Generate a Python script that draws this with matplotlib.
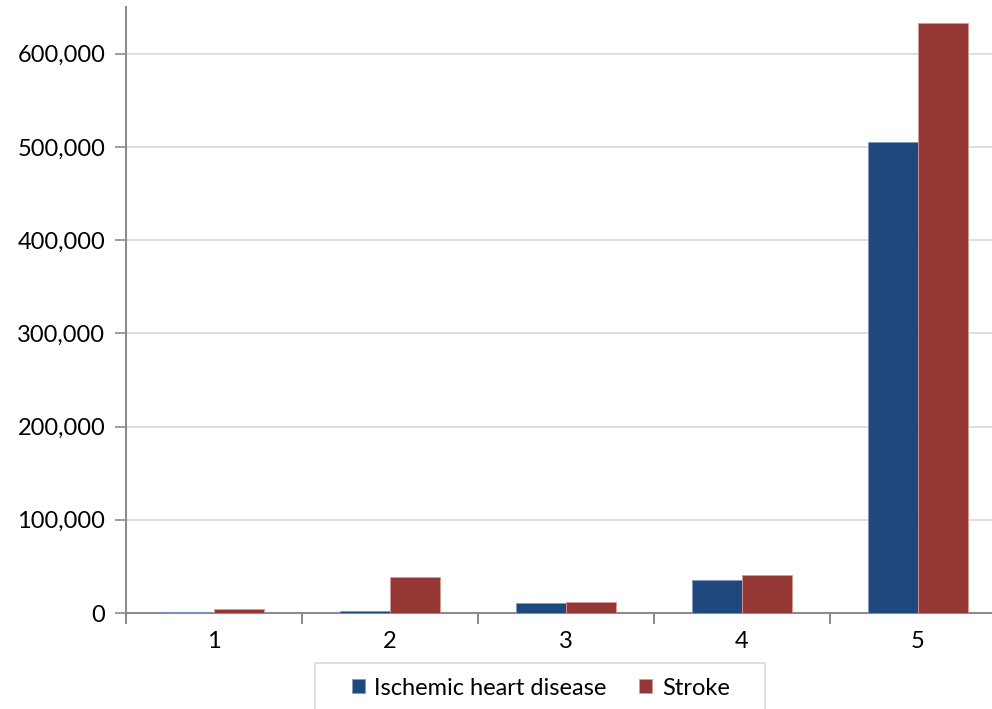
import matplotlib.pyplot as plt
from matplotlib.ticker import FuncFormatter, FixedLocator
from matplotlib.patches import Rectangle
import numpy as np

plt.rcParams['font.family'] = ['Lato', 'DejaVu Sans']

categories = ['1', '2', '3', '4', '5']
ischemic = [1400, 1700, 10300, 35400, 505400]
stroke = [4300, 38900, 11800, 41000, 632900]

fig = plt.figure(figsize=(9.92, 7.09), dpi=100)
# plot area runs a little past the right edge, as in the reference
ax = fig.add_axes([0.127, 0.1354, 0.887, 0.8546])

x = np.arange(len(categories))
w = 0.284
ax.bar(x - w / 2, ischemic, w, color='#1F497D', edgecolor='#7f9cc0',
       linewidth=0.6, label='Ischemic heart disease', zorder=3)
ax.bar(x + w / 2, stroke, w, color='#953735', edgecolor='#d49a99',
       linewidth=0.6, label='Stroke', zorder=3)

ax.set_xlim(-0.5, len(categories) - 0.5)
ax.set_ylim(0, 650000)
ax.set_yticks(np.arange(0, 650000, 100000))
ax.yaxis.set_major_formatter(FuncFormatter(lambda v, p: f'{int(v):,}'))
ax.set_xticks(x)
ax.set_xticklabels(categories)
ax.xaxis.set_minor_locator(FixedLocator(np.arange(-0.5, len(categories), 1.0)))
ax.tick_params(axis='x', which='major', length=0, pad=13, labelsize=17)
ax.tick_params(axis='x', which='minor', length=8, width=1.5, color='#8c8c8c')
ax.tick_params(axis='y', length=8, width=1.2, color='#8c8c8c', labelsize=17, pad=7)

ax.grid(axis='y', color='#d9d9d9', linewidth=1.2, zorder=0)
for s in ['top', 'right']:
    ax.spines[s].set_visible(False)
for s in ['left', 'bottom']:
    ax.spines[s].set_color('#8c8c8c')
    ax.spines[s].set_linewidth(1.5)

# legend box (runs off the bottom edge)
fig.patches.append(Rectangle((0.3175, -0.02), 0.4536, 0.0849,
                             transform=fig.transFigure, facecolor='white',
                             edgecolor='#d9d9d9', linewidth=1.2))
fig.legend(loc='center', bbox_to_anchor=(0.545, 0.0296), ncol=2,
           fontsize=17, frameon=False,
           handlelength=0.55, handleheight=0.55, handletextpad=0.4,
           columnspacing=1.4, borderpad=0)

fig.savefig('out.png', dpi=100)
